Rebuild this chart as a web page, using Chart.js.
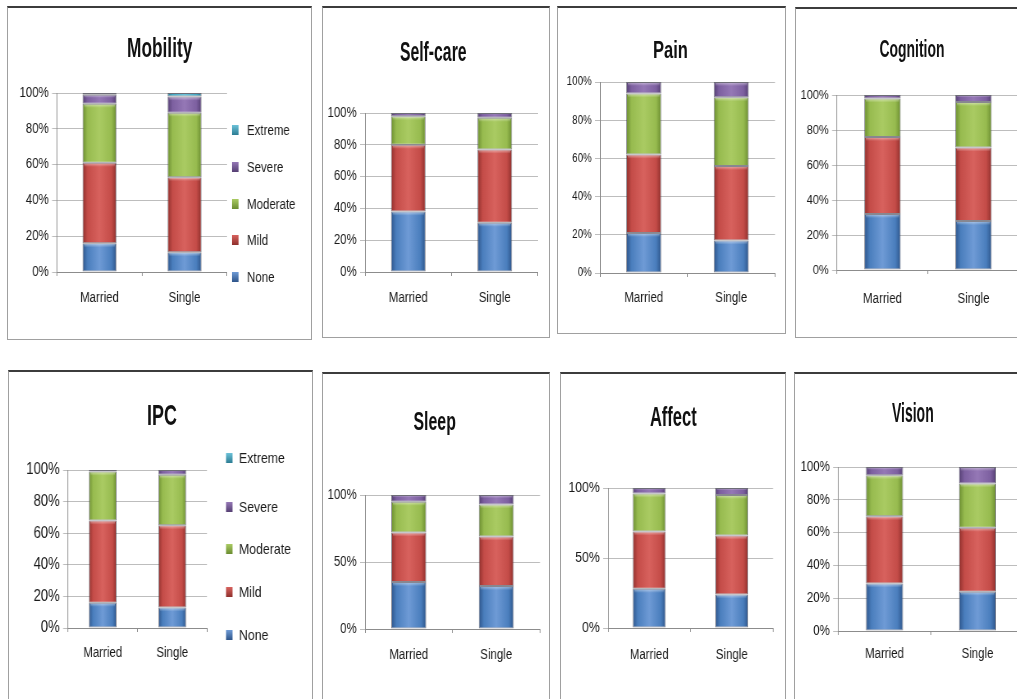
<!DOCTYPE html>
<html>
<head>
<meta charset="utf-8">
<script src="https://cdn.jsdelivr.net/npm/chart.js@4.4.1/dist/chart.umd.min.js"></script>
<style>
  html, body { margin: 0; padding: 0; background: #fff; }
  body { position: relative; width: 1017px; height: 699px; overflow: hidden; }
  .panel { position: absolute; box-sizing: border-box; border: 1px solid #a0a0a0; border-top: 2px solid #3c3c3c; }
  canvas { position: absolute; transform-origin: 0 0; }
  .title {
    position: absolute; white-space: nowrap; line-height: 1; color: #111;
    font-family: 'Liberation Sans', sans-serif; font-weight: bold;
    transform-origin: 50% 50%;
  }
</style>
</head>
<body>
<script>
// Respondent categories and health domains
const groups  = ['Married', 'Single'];
const domains = ['Mobility', 'Self-care', 'Pain', 'Cognition', 'IPC', 'Sleep', 'Affect', 'Vision'];
const levels  = ['None', 'Mild', 'Moderate', 'Severe', 'Extreme'];

// Share of respondents (%) per domain, as [Married, Single]
const none     = [[16, 11], [38, 31], [21, 17], [32, 28], [16, 13], [35, 32], [28, 24], [29, 24]];
const mild     = [[45, 42], [42, 46], [41, 39], [44, 42], [52, 52], [37, 37], [41, 42], [41, 39]];
const moderate = [[33, 36], [18, 20], [32, 36], [22, 26], [31, 32], [23, 24], [27, 29], [25, 27]];
const severe   = [[5, 9],   [2, 3],   [6, 8],   [2, 4],   [1, 3],   [5, 7],   [4, 5],   [5, 10]];
const extreme  = [[1, 2],   [0, 0],   [0, 0],   [0, 0],   [0, 0],   [0, 0],   [0, 0],   [0, 0]];

// Y-axis tick step (%) per domain
const tickSteps = [20, 20, 20, 20, 20, 50, 50, 20];
// Domains that carry the severity legend
const withLegend = ['Mobility', 'IPC'];

const seriesValues = [none, mild, moderate, severe, extreme];

// Office-style palette: [base, light, dark]
const palette = [
  ['#4a7ebd', '#6f9bd6', '#2d5489'],
  ['#c44c48', '#d8625e', '#8e2f2c'],
  ['#97bb4f', '#aacb63', '#6a8c30'],
  ['#7d60a0', '#9578b6', '#553f73'],
  ['#46a9c4', '#6cc2d9', '#2b7c93']
];

// Page layout of each panel: frame box, plot area [l, t, r, b], title [x, y, size, width], fonts
const layout = [
  { frame: [7, 6, 312, 340],    plot: [57, 93, 227, 272],   title: [159.5, 46, 21, 65],  tick: 14,   xLabelY: 298,
    legend: { box: 232, text: 247, ys: [130, 167, 204, 240, 277], font: 14 } },
  { frame: [322, 6, 550, 338],  plot: [365, 113, 538, 272], title: [433, 52, 20, 67],    tick: 14,   xLabelY: 298 },
  { frame: [557, 6, 786, 334],  plot: [600, 82, 775, 273],  title: [670, 51, 17.5, 35],  tick: 12,   xLabelY: 298 },
  { frame: [795, 7, 1032, 338], plot: [837, 95, 1019, 270], title: [912, 49, 18, 65],    tick: 13.5, xLabelY: 299 },
  { frame: [8, 370, 313, 712],  plot: [68, 470, 207, 628],  title: [162, 417, 21.5, 30], tick: 16,   xLabelY: 653,
    legend: { box: 226, text: 239, ys: [458, 507, 549, 592, 635], font: 15 } },
  { frame: [322, 372, 550, 712], plot: [365, 495, 540, 629], title: [434, 422, 18.5, 42], tick: 14,  xLabelY: 655 },
  { frame: [560, 372, 786, 712], plot: [608, 488, 773, 628], title: [673, 417, 20, 47],   tick: 15,  xLabelY: 655 },
  { frame: [794, 372, 1032, 712], plot: [838, 467, 1024, 631], title: [913, 413, 20, 42], tick: 14,  xLabelY: 654 }
];

const FONT = "'Liberation Sans', Arial, sans-serif";
const SQUEEZE = 0.82;          // horizontal compression of each chart canvas
const BAR_FRACTION = 0.4;
const X_TICK_LEN = 4;

// Horizontal shading across each bar: darker edges, lighter middle
function barFill(base, light, dark) {
  return (ctx) => {
    const chart = ctx.chart;
    const xs = chart.scales && chart.scales.x;
    if (!chart.chartArea || !xs || ctx.type !== 'data') return base;
    const c = xs.getPixelForValue(ctx.dataIndex);
    const half = (xs.width / chart.data.labels.length) * BAR_FRACTION / 2;
    const g = chart.ctx.createLinearGradient(c - half, 0, c + half, 0);
    g.addColorStop(0, dark);
    g.addColorStop(0.15, base);
    g.addColorStop(0.5, light);
    g.addColorStop(0.85, base);
    g.addColorStop(1, dark);
    return g;
  };
}

// Light bevel at the top edge of every bar segment
const bevel = {
  id: 'bevel',
  afterDatasetsDraw(chart) {
    const ctx = chart.ctx;
    ctx.save();
    chart.data.datasets.forEach((ds, i) => {
      chart.getDatasetMeta(i).data.forEach((bar) => {
        const h = bar.base - bar.y;
        if (h < 3) return;
        const band = Math.min(4, h / 3);
        const g = ctx.createLinearGradient(0, bar.y, 0, bar.y + band);
        g.addColorStop(0, 'rgba(255,255,255,0.5)');
        g.addColorStop(1, 'rgba(255,255,255,0)');
        ctx.fillStyle = g;
        ctx.fillRect(bar.x - bar.width / 2 + 2, bar.y + 1, bar.width - 4, band);
      });
    });
    ctx.restore();
  }
};

// Severity legend, drawn top-down from the highest level
const sideLegend = {
  id: 'sideLegend',
  afterDraw(chart, args, opts) {
    if (!opts || !opts.ys) return;
    const ctx = chart.ctx;
    ctx.save();
    ctx.font = opts.font + 'px ' + FONT;
    ctx.textBaseline = 'middle';
    const sets = chart.data.datasets.slice().reverse();
    sets.forEach((ds, i) => {
      const y = opts.ys[i];
      const col = palette[levels.indexOf(ds.label)];
      const g = ctx.createLinearGradient(0, y - 5, 0, y + 5);
      g.addColorStop(0, col[1]);
      g.addColorStop(1, col[2]);
      ctx.fillStyle = g;
      ctx.fillRect(opts.box, y - 5, 8, 10);
      ctx.fillStyle = '#1a1a1a';
      ctx.fillText(ds.label, opts.text, y + 1);
    });
    ctx.restore();
  }
};

domains.forEach((name, d) => {
  const L = layout[d];
  const [fl, ft, fr, fb] = L.frame;

  const frame = document.createElement('div');
  frame.className = 'panel';
  Object.assign(frame.style, { left: fl + 'px', top: ft + 'px', width: (fr - fl) + 'px', height: (fb - ft) + 'px' });
  document.body.appendChild(frame);

  // canvas box on the page; its internal x units are widened by 1/SQUEEZE
  const cx = fl + 2, cy = ft + 2, cw = fr - fl - 4, ch = fb - ft - 4;
  const toX = (px) => (px - cx) / SQUEEZE;
  const iw = Math.round(cw / SQUEEZE);
  const canvas = document.createElement('canvas');
  canvas.width = iw; canvas.height = ch;
  Object.assign(canvas.style, {
    left: cx + 'px', top: cy + 'px', width: iw + 'px', height: ch + 'px',
    transform: 'scaleX(' + SQUEEZE + ')'
  });
  document.body.appendChild(canvas);

  const [pl, pt, pr, pb] = L.plot;
  const yWidth = toX(pl);
  const xHeight = cy + ch - pb;
  const xPad = L.xLabelY - pb - X_TICK_LEN - 14 * 1.2 / 2;

  const datasets = levels.map((lv, k) => ({
    label: lv,
    data: seriesValues[k][d],
    backgroundColor: barFill(...palette[k]),
    borderColor: 'rgba(55,55,70,0.6)',
    borderWidth: 1,
    borderSkipped: false,
    barPercentage: BAR_FRACTION,
    categoryPercentage: 1
  }));

  const legendOpts = withLegend.includes(name)
    ? { box: toX(L.legend.box), text: toX(L.legend.text), ys: L.legend.ys.map(v => v - cy), font: L.legend.font }
    : {};

  new Chart(canvas, {
    type: 'bar',
    data: { labels: groups, datasets },
    plugins: [bevel, sideLegend],
    options: {
      responsive: false,
      animation: false,
      devicePixelRatio: 1,
      layout: { padding: { top: pt - cy, right: iw - toX(pr), left: 0, bottom: 0 } },
      plugins: {
        legend: { display: false },
        title: { display: false },
        tooltip: { enabled: false },
        sideLegend: legendOpts
      },
      scales: {
        x: {
          stacked: true,
          grid: { offset: true, drawOnChartArea: false, drawTicks: true, tickLength: X_TICK_LEN, color: '#8c8c8c' },
          border: { display: true, color: '#8c8c8c' },
          ticks: { font: { family: FONT, size: 14 }, color: '#1a1a1a', padding: xPad, maxRotation: 0 },
          afterFit: (s) => { s.height = xHeight; }
        },
        y: {
          stacked: true,
          min: 0, max: 100,
          grid: { color: '#bdbdbd', tickLength: 6 },
          border: { display: true, color: '#8c8c8c' },
          ticks: {
            stepSize: tickSteps[d],
            font: { family: FONT, size: L.tick },
            color: '#1a1a1a',
            padding: 4,
            callback: (v) => v + '%'
          },
          afterFit: (s) => { s.width = yWidth; }
        }
      }
    }
  });

  const t = document.createElement('div');
  t.className = 'title';
  t.textContent = name;
  t.style.fontSize = L.title[2] + 'px';
  document.body.appendChild(t);
  const w = t.offsetWidth, h = t.offsetHeight;
  t.style.left = (L.title[0] - w / 2) + 'px';
  t.style.top = (L.title[1] - h / 2) + 'px';
  t.style.transform = 'scale(' + (L.title[3] / w).toFixed(3) + ', 1.35)';
});
</script>
</body>
</html>
